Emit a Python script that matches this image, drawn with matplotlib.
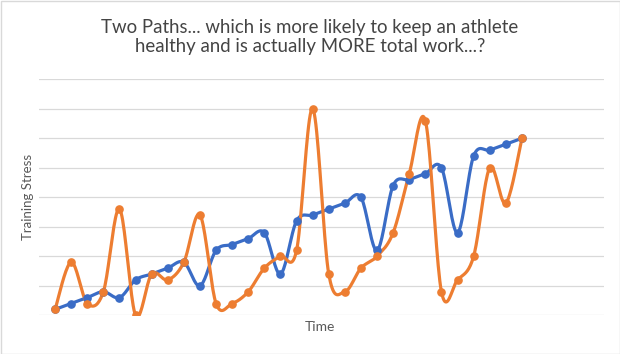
import numpy as np
import matplotlib
matplotlib.use("Agg")
import matplotlib.pyplot as plt
from matplotlib.patches import Rectangle

# values (gridline units, 0..8)
blue = [0.2, 0.4, 0.6, 0.8, 0.6, 1.2, 1.4, 1.6, 1.8, 1.0,
        2.2, 2.4, 2.6, 2.8, 1.4, 3.2, 3.4, 3.6, 3.8, 4.0,
        2.2, 4.4, 4.6, 4.8, 5.0, 2.8, 5.4, 5.6, 5.8, 6.0]
orange = [0.2, 1.8, 0.4, 0.8, 3.6, 0.0, 1.4, 1.2, 1.8, 3.4,
          0.4, 0.4, 0.8, 1.6, 2.0, 2.2, 7.0, 1.4, 0.8, 1.6,
          2.0, 2.8, 4.8, 6.6, 0.8, 1.2, 2.0, 5.0, 3.8, 6.0]

title = "Two Paths... which is more likely to keep an athlete\nhealthy and is actually MORE total work...?"
blue_c = "#3A6CC6"
orange_c = "#ED7D31"
text_c = "#595959"

plt.rcParams['font.family'] = ['Lato', 'DejaVu Sans']


def smooth(y, n=20):
    # excel-style smoothed line (catmull-rom through the points)
    y = np.asarray(y, dtype=float)
    x = np.arange(len(y), dtype=float)
    p = np.vstack([x, y]).T
    p = np.vstack([p[0], p, p[-1]])
    out = []
    t = np.linspace(0, 1, n, endpoint=False)[:, None]
    for i in range(1, len(p) - 2):
        p0, p1, p2, p3 = p[i - 1], p[i], p[i + 1], p[i + 2]
        c1 = p1 + (p2 - p0) / 6
        c2 = p2 - (p3 - p1) / 6
        seg = ((1 - t) ** 3 * p1 + 3 * (1 - t) ** 2 * t * c1
               + 3 * (1 - t) * t ** 2 * c2 + t ** 3 * p2)
        out.append(seg)
    out.append(p[-2][None, :])
    out = np.vstack(out)
    return out[:, 0], out[:, 1]


fig = plt.figure(figsize=(6.2, 3.54), dpi=100)
ax = fig.add_axes([39 / 620, 1 - 315.3 / 354, (603.7 - 39) / 620, (315.3 - 79.3) / 354])

for v in range(0, 9):
    ax.axhline(v, color="#D9D9D9", lw=0.9, zorder=0)

x = np.arange(len(blue))
for vals, c in [(blue, blue_c), (orange, orange_c)]:
    sx, sy = smooth(vals)
    ax.plot(sx, sy, color=c, lw=2.3, solid_capstyle="round", zorder=3)
    ax.plot(x, vals, "o", color=c, ms=5.2, zorder=4)

ax.set_xlim(-1.0, 34.08)
ax.set_ylim(0, 8)
ax.set_xticks([])
ax.set_yticks([])
for s in ax.spines.values():
    s.set_visible(False)

fig.text(310 / 620, 1 - 37 / 354, title, ha="center", va="center",
         fontsize=13.4, color="#444444", linespacing=1.2)
fig.text(28 / 620, 1 - 197 / 354, "Training Stress", rotation=90,
         ha="center", va="center", fontsize=9.5, color=text_c)
fig.text(320 / 620, 1 - 327 / 354, "Time", ha="center", va="center",
         fontsize=10, color=text_c)

fig.patches.append(Rectangle((0.5 / 620, 0.5 / 354), 619 / 620, 353 / 354,
                             transform=fig.transFigure, fill=False,
                             edgecolor="#D9D9D9", lw=1))

fig.savefig("out.png", dpi=100)
